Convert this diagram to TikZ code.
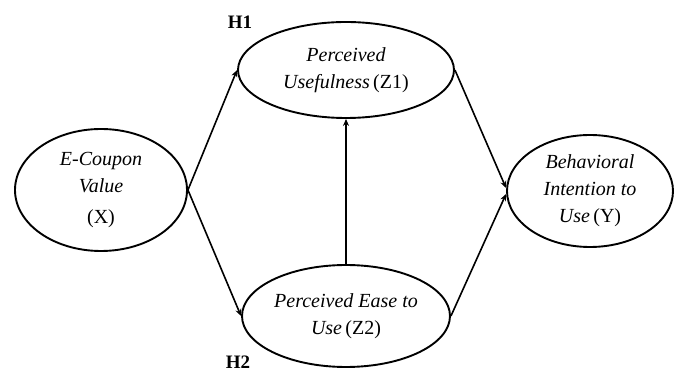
\documentclass[tikz,border=0pt]{standalone}
\usepackage{fontspec}
\setmainfont{Liberation Serif}
\usetikzlibrary{arrows.meta,shapes.geometric}
\begin{document}
\begin{tikzpicture}[x=1pt,y=1pt,
  construct/.style={draw=black,line width=1.9pt,ellipse,inner sep=0pt,align=center,
    font=\fontsize{20}{27}\selectfont\itshape},
  path/.style={line width=1.6pt,-{Stealth[length=7pt,width=6pt]}},
  hyp/.style={font=\fontsize{19}{20}\selectfont\bfseries}]
\useasboundingbox (0,0) rectangle (680,372);
\node[construct,minimum width=172pt,minimum height=122pt] (X) at (101,182)
  {E-Coupon\\Value\\[4pt]\upshape(X)};
\node[construct,minimum width=216pt,minimum height=96pt] (Z1) at (346,302)
  {Perceived\\Usefulness\,\upshape(Z1)};
\node[construct,minimum width=208pt,minimum height=102pt] (Z2) at (346,56)
  {Perceived Ease to\\Use\,\upshape(Z2)};
\node[construct,minimum width=166pt,minimum height=112pt] (Y) at (590,181)
  {Behavioral\\Intention to\\Use\,\upshape(Y)};
\node[hyp] (H1) at (240,350) {H1};
\node[hyp] (H2) at (238,10) {H2};
\draw[path] (X.east) -- (Z1.west);
\draw[path] (X.east) -- (Z2.west);
\draw[path] (Z1.east) -- ([yshift=3pt]Y.west);
\draw[path] (Z2.east) -- ([yshift=-3pt]Y.west);
\draw[path] (Z2.north) -- (Z1.south);
\end{tikzpicture}
\end{document}
